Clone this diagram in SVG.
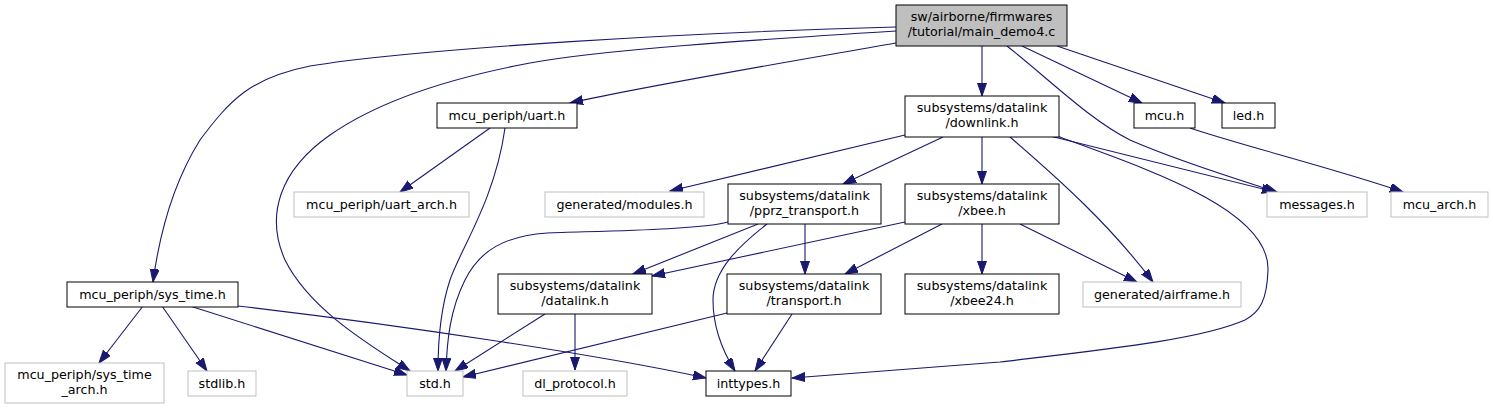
<svg xmlns="http://www.w3.org/2000/svg" width="1493" height="409" viewBox="0 0 1493 409">
<style>
.n rect{fill:#fff;stroke:#000;stroke-width:1}
.u rect{fill:#fff;stroke:#bfbfbf;stroke-width:1}
.m rect{fill:#bfbfbf;stroke:#000;stroke-width:1}
text{font-family:"DejaVu Sans",sans-serif;font-size:12.7px;text-anchor:middle;fill:#000}
#edges path{fill:none;stroke:#191970;stroke-width:1.1;marker-end:url(#ah)}
</style>
<defs>
<marker id="ah" markerUnits="userSpaceOnUse" markerWidth="14" markerHeight="10" refX="13" refY="4.5" orient="auto">
<path d="M0,0 L13,4.5 L0,9 z" fill="#191970" stroke="#191970" stroke-width="1"/>
</marker>
</defs>
<rect width="1493" height="409" fill="#fff"/>
<g id="edges">
<path d="M896,27 C700,32 420,48 310,66 C250,78 230,100 200,140 C175,180 160,230 153,282"/>
<path d="M896,31 C750,40 600,50 530,63 C450,78 380,100 330,135 C280,170 265,215 285,260 C310,310 370,345 410,371"/>
<path d="M896,43 C800,60 650,85 570,103"/>
<path d="M982,46 L982,96"/>
<path d="M1007,46 C1050,80 1090,120 1130,140 C1180,162 1240,180 1277,192"/>
<path d="M1022,46 L1142,103"/>
<path d="M1057,46 L1225,103"/>
<path d="M1190,128 C1240,145 1340,170 1403,192"/>
<path d="M490,128 L400,192"/>
<path d="M505,128 C495,200 460,250 450,280 C440,310 438,340 438,371"/>
<path d="M905,135 L670,191"/>
<path d="M943,137 L843,184"/>
<path d="M982,137 L982,184"/>
<path d="M1050,136 L1275,192"/>
<path d="M1010,137 C1060,180 1110,225 1153,282"/>
<path d="M1057,136 C1150,170 1270,210 1268,270 C1267,300 1260,312 1245,320 C1200,340 1100,350 1000,362 C900,370 820,376 792,378"/>
<path d="M728,222 C700,230 600,231 547,233 C505,236 480,250 465,280 C450,310 447,340 446,371"/>
<path d="M758,224 L633,274"/>
<path d="M805,224 L805,274"/>
<path d="M767,224 C740,245 713,270 713,300 C713,330 725,355 735,371"/>
<path d="M905,222 L652,276"/>
<path d="M942,224 L845,274"/>
<path d="M982,224 L982,274"/>
<path d="M1020,224 L1137,282"/>
<path d="M545,314 L455,371"/>
<path d="M575,314 L575,370"/>
<path d="M727,313 L463,377"/>
<path d="M792,314 L755,371"/>
<path d="M143,306 L99,363"/>
<path d="M162,306 L207,371"/>
<path d="M190,306 L407,375"/>
<path d="M238,306 C400,325 600,355 706,378"/>
</g>
<g id="node_main" class="m"><rect x="896" y="5" width="171" height="41"/><text x="981.5" y="21">sw/airborne/firmwares</text><text x="981.5" y="36">/tutorial/main_demo4.c</text></g>
<g id="node_downlink" class="n"><rect x="905" y="96" width="154" height="41"/><text x="982" y="112">subsystems/datalink</text><text x="982" y="127">/downlink.h</text></g>
<g id="node_mcu" class="n"><rect x="1134" y="103" width="61" height="25"/><text x="1164.5" y="119.5">mcu.h</text></g>
<g id="node_led" class="n"><rect x="1222" y="103" width="53" height="25"/><text x="1248.5" y="119.5">led.h</text></g>
<g id="node_uart" class="n"><rect x="437" y="103" width="140" height="25"/><text x="507" y="119.5">mcu_periph/uart.h</text></g>
<g id="node_uart_arch" class="u"><rect x="294" y="192" width="175" height="25"/><text x="381.5" y="208.5">mcu_periph/uart_arch.h</text></g>
<g id="node_sys_time" class="n"><rect x="67" y="282" width="171" height="25"/><text x="152.5" y="298.5">mcu_periph/sys_time.h</text></g>
<g id="node_sys_time_arch" class="u"><rect x="5" y="363" width="159" height="40"/><text x="84.5" y="379">mcu_periph/sys_time</text><text x="84.5" y="394">_arch.h</text></g>
<g id="node_stdlib" class="u"><rect x="188" y="371" width="68" height="25"/><text x="222" y="387.5">stdlib.h</text></g>
<g id="node_std" class="u"><rect x="407" y="371" width="56" height="25"/><text x="435" y="387.5">std.h</text></g>
<g id="node_datalink" class="n"><rect x="498" y="274" width="154" height="40"/><text x="575" y="290">subsystems/datalink</text><text x="575" y="305">/datalink.h</text></g>
<g id="node_dl_protocol" class="u"><rect x="523" y="371" width="104" height="25"/><text x="575" y="387.5">dl_protocol.h</text></g>
<g id="node_transport" class="n"><rect x="727" y="274" width="154" height="40"/><text x="804" y="290">subsystems/datalink</text><text x="804" y="305">/transport.h</text></g>
<g id="node_inttypes" class="n"><rect x="706" y="371" width="85" height="25"/><text x="748.5" y="387.5">inttypes.h</text></g>
<g id="node_xbee24" class="n"><rect x="905" y="274" width="154" height="40"/><text x="982" y="290">subsystems/datalink</text><text x="982" y="305">/xbee24.h</text></g>
<g id="node_modules" class="u"><rect x="545" y="192" width="159" height="25"/><text x="624.5" y="208.5">generated/modules.h</text></g>
<g id="node_pprz" class="n"><rect x="728" y="184" width="153" height="40"/><text x="804.5" y="200">subsystems/datalink</text><text x="804.5" y="215">/pprz_transport.h</text></g>
<g id="node_xbee" class="n"><rect x="905" y="184" width="154" height="40"/><text x="982" y="200">subsystems/datalink</text><text x="982" y="215">/xbee.h</text></g>
<g id="node_messages" class="u"><rect x="1267" y="192" width="100" height="25"/><text x="1317" y="208.5">messages.h</text></g>
<g id="node_mcu_arch" class="u"><rect x="1391" y="192" width="97" height="25"/><text x="1439.5" y="208.5">mcu_arch.h</text></g>
<g id="node_airframe" class="u"><rect x="1083" y="282" width="158" height="25"/><text x="1162" y="298.5">generated/airframe.h</text></g>
</svg>
